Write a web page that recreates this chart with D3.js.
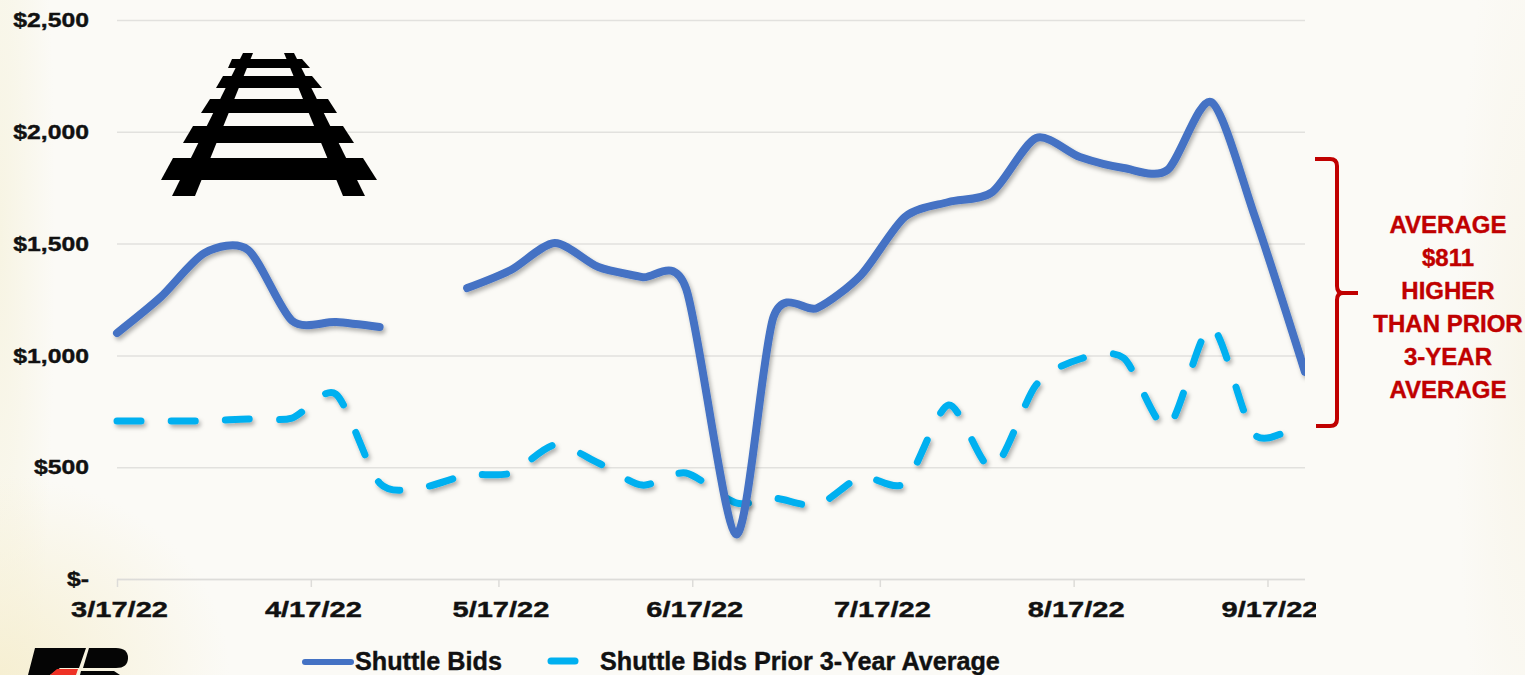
<!DOCTYPE html>
<html>
<head>
<meta charset="utf-8">
<script src="https://cdn.jsdelivr.net/npm/d3@7"></script>
<style>
  html, body { margin: 0; padding: 0; overflow: hidden; }
  body {
    width: 1525px; height: 675px;
    background:
      radial-gradient(ellipse 230px 200px at 0% 100%, #f6efd2 0%, rgba(246,239,210,0) 100%),
      radial-gradient(ellipse 55px 620px at 0% 35%, #f7f4e3 0%, rgba(247,244,227,0) 100%),
      radial-gradient(ellipse 70px 500px at 100% 55%, #f8f5ea 0%, rgba(248,245,234,0) 100%),
      #fbfaf6;
  }
  svg { display: block; }
  text { font-family: "Liberation Sans", sans-serif; font-weight: 700; fill: #111; paint-order: stroke; stroke: #111; stroke-width: 0.4px; }
</style>
</head>
<body>
<svg width="1525" height="675"></svg>
<script>
const dates = ["2022-03-17","2022-03-24","2022-03-31","2022-04-07","2022-04-14","2022-04-21","2022-04-28",
  "2022-05-05","2022-05-12","2022-05-19","2022-05-26","2022-06-02","2022-06-09","2022-06-16",
  "2022-06-24","2022-06-30","2022-07-07","2022-07-14","2022-07-21","2022-07-28","2022-08-04",
  "2022-08-11","2022-08-18","2022-08-25","2022-09-01","2022-09-08","2022-09-15","2022-09-23"];
const shuttleBids = [1100,1261,1458,1471,1155,1149,1127,
  null,1301,1382,1503,1395,1350,1300,
  200,1172,1212,1360,1619,1686,1731,
  1972,1887,1838,1829,2133,1619,926];
const priorAverage = [707,707,707,716,720,827,429,
  411,465,474,599,519,420,474,
  340,362,331,456,429,778,496,
  868,984,988,680,1127,644,711];
const yTicks = [0,500,1000,1500,2000,2500];
const xTicks = ["2022-03-17","2022-04-17","2022-05-17","2022-06-17","2022-07-17","2022-08-17","2022-09-17"];
const noteLines = ["AVERAGE","$811","HIGHER","THAN PRIOR","3-YEAR","AVERAGE"];

const parse = d3.utcParse("%Y-%m-%d");
const svg = d3.select("svg");

const x = d3.scaleUtc().domain([parse("2022-03-17"), parse("2022-09-23")]).range([117, 1305]);
const y = d3.scaleLinear().domain([0, 2500]).range([579, 20]);

// the reference font is wider than anything installed, so stretch the labels
function widen(sel, factor) {
  sel.each(function () {
    d3.select(this)
      .attr("textLength", this.getComputedTextLength() * factor)
      .attr("lengthAdjust", "spacingAndGlyphs");
  });
}

const defs = svg.append("defs");
defs.append("clipPath").attr("id", "plot").append("rect")
  .attr("x", 110).attr("y", 0).attr("width", 1195).attr("height", 600);
defs.append("clipPath").attr("id", "xlabels").append("rect")
  .attr("x", 0).attr("y", -10).attr("width", 1316).attr("height", 70);
const shadow = defs.append("filter").attr("id", "shadow")
  .attr("x", "-5%").attr("y", "-5%").attr("width", "110%").attr("height", "110%");
shadow.append("feDropShadow").attr("dx", 2).attr("dy", 3).attr("stdDeviation", 2)
  .attr("flood-color", "#000").attr("flood-opacity", 0.3);

// gridlines + y labels
const yAxis = svg.append("g").attr("transform", "translate(117,0)")
  .call(d3.axisLeft(y).tickValues(yTicks).tickSize(-1188).tickPadding(28)
    .tickFormat((d) => (d === 0 ? "$-" : d3.format("$,")(d))));
yAxis.select(".domain").remove();
yAxis.selectAll("line").attr("stroke", "#e2e1de").attr("stroke-width", 1.5);
yAxis.selectAll("text").style("font-size", "21px").call(widen, 1.18);

// x axis
const xAxis = svg.append("g").attr("transform", "translate(0,579)").attr("clip-path", "url(#xlabels)")
  .call(d3.axisBottom(x).tickValues(xTicks.map(parse)).tickSize(8).tickPadding(14)
    .tickFormat(d3.utcFormat("%-m/%-d/%y")));
xAxis.select(".domain").attr("stroke", "#dddcd9").attr("stroke-width", 1.5).attr("d", "M117,0.5H1305");
xAxis.selectAll("line").attr("stroke", "#dddcd9").attr("stroke-width", 1.5);
xAxis.selectAll("text").attr("dx", 2).style("font-size", "22px").call(widen, 1.32);

// lines
const line = d3.line()
  .defined((d) => d[1] !== null)
  .x((d) => x(parse(d[0])))
  .y((d) => y(d[1]))
  .curve(d3.curveCardinal.tension(0.2));

const plot = svg.append("g").attr("clip-path", "url(#plot)");
plot.append("path")
  .attr("d", line(d3.zip(dates, priorAverage)))
  .attr("fill", "none").attr("stroke", "#00b0f0").attr("stroke-width", 7)
  .attr("stroke-linecap", "round").attr("stroke-dasharray", "24 30.2")
  .attr("filter", "url(#shadow)");
plot.append("path")
  .attr("d", line(d3.zip(dates, shuttleBids)))
  .attr("fill", "none").attr("stroke", "#4472c4").attr("stroke-width", 8)
  .attr("stroke-linecap", "round").attr("stroke-linejoin", "round")
  .attr("filter", "url(#shadow)");

// railroad icon
const rail = svg.append("g").attr("fill", "#000");
[
  "M232,59H302L310,68H228Z",
  "M223,76H312L322,88H216Z",
  "M210,99H328L337,113H201Z",
  "M193,126H343L354,143H183Z",
  "M173,158H363L377,180H161Z",
  "M243,53H253L195,196H172Z",
  "M284,53H294L365,196H343Z"
].forEach((d) => rail.append("path").attr("d", d));

// logo, cut off by the page bottom
const logo = svg.append("g");
logo.append("path").attr("fill", "#050505").attr("d", "M35,648H86L79,668H60L50,675H28Z");
logo.append("path").attr("fill", "#050505").attr("d", "M89,648H116Q128,648 128,658Q128,668 116,668H83Z");
logo.append("path").attr("fill", "#050505").attr("d", "M81,671H114L120,675H80Z");
logo.append("path").attr("fill", "#ee3124").attr("d", "M50,675L57,669H78L76,675Z");

// legend
const legend = svg.append("g").attr("class", "legend");
legend.append("line").attr("x1", 305).attr("x2", 351).attr("y1", 662).attr("y2", 662)
  .attr("stroke", "#4472c4").attr("stroke-width", 6).attr("stroke-linecap", "round");
legend.append("text").attr("x", 355).attr("y", 670).style("font-size", "25.2px").text("Shuttle Bids");
legend.append("line").attr("x1", 551).attr("x2", 575).attr("y1", 661).attr("y2", 661)
  .attr("stroke", "#00b0f0").attr("stroke-width", 7).attr("stroke-linecap", "round");
legend.append("text").attr("x", 600).attr("y", 670).style("font-size", "25.2px").text("Shuttle Bids Prior 3-Year Average");

// bracket + note
const note = svg.append("g").attr("class", "note");
note.append("path")
  .attr("d", "M1315,159H1330Q1337,159 1337,166V286Q1337,293 1343,293H1358M1343,293Q1337,293 1337,300V419Q1337,426 1330,426H1316")
  .attr("fill", "none").attr("stroke", "#c00000").attr("stroke-width", 4);
note.selectAll("text").data(noteLines).join("text")
  .attr("x", 1448)
  .attr("y", (d, i) => 233 + i * 33)
  .attr("text-anchor", "middle")
  .style("font-size", "24px")
  .style("fill", "#c00000")
  .style("stroke", "#c00000")
  .text((d) => d);
</script>
</body>
</html>
